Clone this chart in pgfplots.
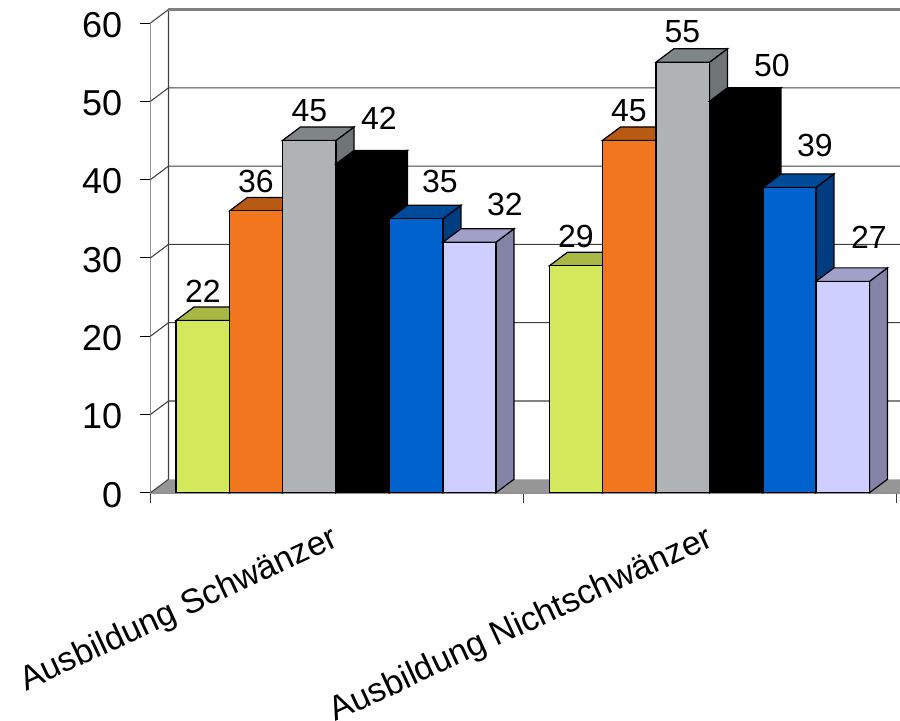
\documentclass[border=0pt]{standalone}
\usepackage{fontspec}
\setmainfont{Liberation Sans}
\usepackage{pgfplots}
\pgfplotsset{compat=1.18}

\definecolor{wallline}{HTML}{404040}
\definecolor{floorgrey}{HTML}{969696}
\definecolor{axisgrey}{HTML}{909090}
\definecolor{limeF}{HTML}{D3E85A}\definecolor{limeT}{HTML}{A8B845}\definecolor{limeS}{HTML}{8F9C3A}
\definecolor{orangeF}{HTML}{F2761D}\definecolor{orangeT}{HTML}{B85A14}\definecolor{orangeS}{HTML}{A04E12}
\definecolor{greyF}{HTML}{AFB3B5}\definecolor{greyT}{HTML}{808587}\definecolor{greyS}{HTML}{6F7476}
\definecolor{blueF}{HTML}{0062CC}\definecolor{blueT}{HTML}{004A9A}\definecolor{blueS}{HTML}{003C80}
\definecolor{lavF}{HTML}{CFCFFF}\definecolor{lavT}{HTML}{A0A0C8}\definecolor{lavS}{HTML}{8484A8}

% depth of the extruded bars: 18 units to the right, 1.72 value units up
\newcommand{\extrudedbar}[6]{%
  \pgfmathsetmacro\barxr{#2+18}%
  \pgfmathsetmacro\barxl{#1+18}%
  \pgfmathsetmacro\bartop{#3+1.72}%
  \addplot[fill=#6,draw=black,line width=0.9pt] coordinates {(#2,#3)(\barxr,\bartop)(\barxr,1.72)(#2,0)} -- cycle;
  \addplot[fill=#5,draw=black,line width=0.9pt] coordinates {(#1,#3)(\barxl,\bartop)(\barxr,\bartop)(#2,#3)} -- cycle;
  \addplot[fill=#4,draw=black,line width=0.9pt] coordinates {(#1,0)(#1,#3)(#2,#3)(#2,0)} -- cycle;
}
\newcommand{\valuelabel}[3]{\node[font=\fontsize{24}{26}\selectfont,inner sep=0pt] at (axis cs:#1,#2) {#3};}

\begin{document}
\begin{tikzpicture}
\useasboundingbox (0,0) rectangle (675pt,540.75pt);
\begin{axis}[
  at={(112.875pt,171.2pt)},anchor=south west,
  scale only axis,width=559.1pt,height=352.3pt,
  xmin=150.5,xmax=896,ymin=0,ymax=60,clip=false,
  axis lines*=left,
  axis line style={axisgrey,line width=1.2pt},
  ytick={0,10,20,30,40,50,60},
  xtick={336.75,711.5},
  xticklabels={Ausbildung Schwänzer,Ausbildung Nichtschwänzer},
  minor xtick={150.5,523,896},
  major x tick style={draw=none},
  tick align=outside,
  major tick length=7.5pt,minor tick length=7.5pt,
  y tick style={black,line width=0.6pt},
  minor x tick style={wallline,line width=0.6pt},
  /pgf/number format/assume math mode=true,
  yticklabel style={font=\fontsize{27}{30}\selectfont,inner sep=0pt,xshift=-13.5pt,yshift=-1.5pt},
  xticklabel style={font=\fontsize{25.5}{28}\selectfont,rotate=25,anchor=north east,inner sep=0pt,xshift=-11.25pt,yshift=-11.25pt},
]
% floor
\addplot[fill=floorgrey,draw=none] coordinates {(150.5,0)(168.5,1.72)(900,1.72)(900,0)} -- cycle;
% back wall and left wall lines
\addplot[wallline,line width=0.8pt] coordinates {(150.5,0)(168.5,1.72)(168.5,61.72)};
\addplot[wallline,line width=0.8pt] coordinates {(150.5,10)(168.5,11.72)(900,11.72)};
\addplot[wallline,line width=0.8pt] coordinates {(150.5,20)(168.5,21.72)(900,21.72)};
\addplot[wallline,line width=0.8pt] coordinates {(150.5,30)(168.5,31.72)(900,31.72)};
\addplot[wallline,line width=0.8pt] coordinates {(150.5,40)(168.5,41.72)(900,41.72)};
\addplot[wallline,line width=0.8pt] coordinates {(150.5,50)(168.5,51.72)(900,51.72)};
\addplot[wallline,line width=0.8pt] coordinates {(150.5,60)(168.5,61.72)};
\addplot[gray,line width=1.6pt] coordinates {(168.5,61.72)(900,61.72)};
\addplot[axisgrey,line width=1.2pt] coordinates {(896,0)(900,0)};
% first group
\extrudedbar{176}{229.5}{22}{limeF}{limeT}{limeS}
\extrudedbar{229.5}{282.5}{36}{orangeF}{orangeT}{orangeS}
\extrudedbar{282.5}{336}{45}{greyF}{greyT}{greyS}
\extrudedbar{336}{389.5}{42}{black}{black}{black}
\extrudedbar{389.5}{443}{35}{blueF}{blueT}{blueS}
\extrudedbar{443}{496}{32}{lavF}{lavT}{lavS}
% second group
\extrudedbar{549.5}{602.5}{29}{limeF}{limeT}{limeS}
\extrudedbar{602.5}{656}{45}{orangeF}{orangeT}{orangeS}
\extrudedbar{656}{709.5}{55}{greyF}{greyT}{greyS}
\extrudedbar{709.5}{763}{50}{black}{black}{black}
\extrudedbar{763}{816}{39}{blueF}{blueT}{blueS}
\extrudedbar{816}{869.5}{27}{lavF}{lavT}{lavS}
% value labels
\valuelabel{203}{25.76}{22}
\valuelabel{256}{39.8}{36}
\valuelabel{309.5}{48.75}{45}
\valuelabel{379}{47.85}{42}
\valuelabel{440}{39.8}{35}
\valuelabel{505}{36.87}{32}
\valuelabel{576}{32.78}{29}
\valuelabel{629}{48.75}{45}
\valuelabel{682.5}{58.84}{55}
\valuelabel{772}{54.6}{50}
\valuelabel{815}{44.4}{39}
\valuelabel{869}{32.66}{27}
\end{axis}
\end{tikzpicture}
\end{document}
